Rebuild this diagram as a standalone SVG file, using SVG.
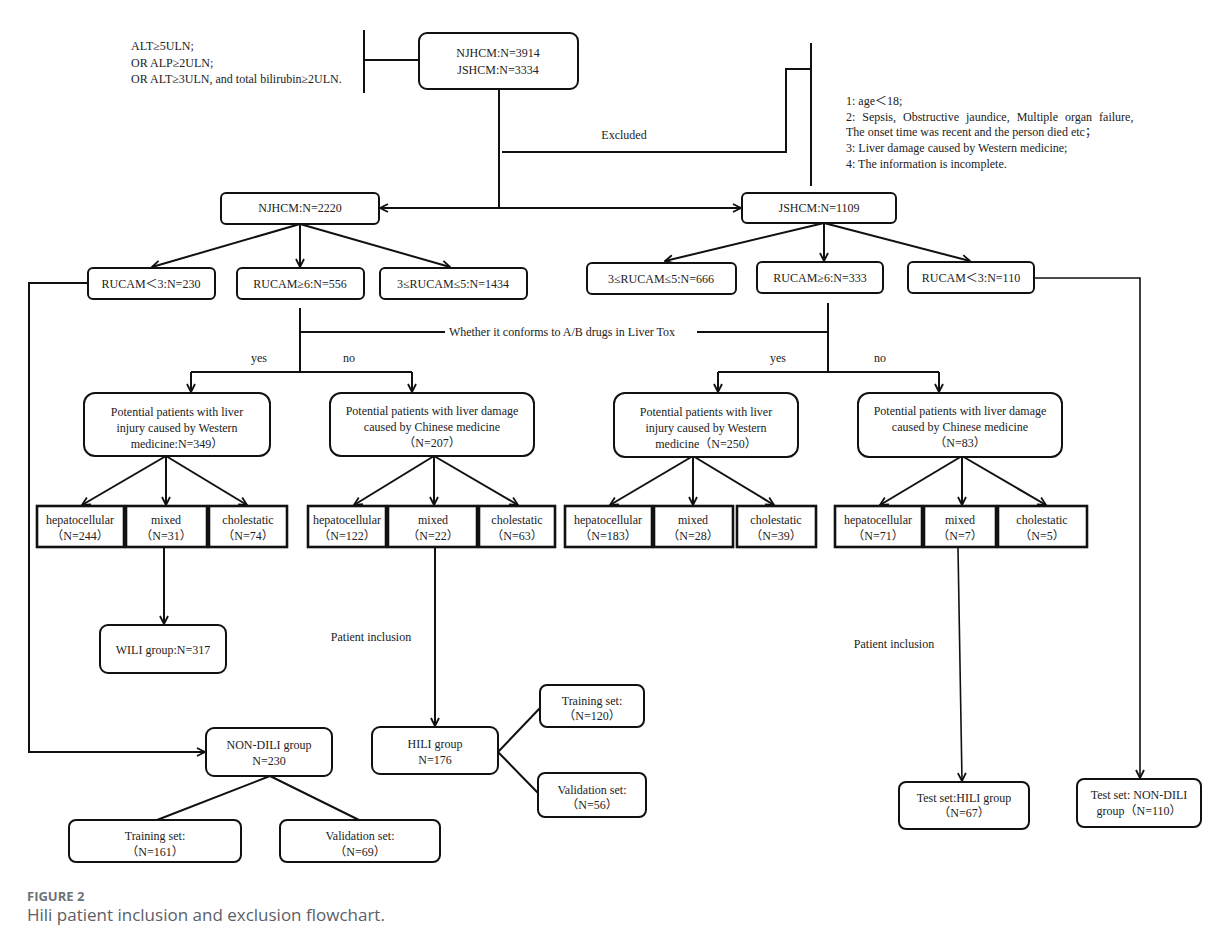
<svg xmlns="http://www.w3.org/2000/svg" width="1216" height="943" viewBox="0 0 1216 943">
<style>
text{font-family:"Liberation Serif","Noto Sans CJK SC",serif;font-size:12px;fill:#222}
.c{text-anchor:middle}
.box{fill:#fff;stroke:#111;stroke-width:2}
.sq{fill:#fff;stroke:#111;stroke-width:2.6}
.ln{fill:none;stroke:#111;stroke-width:2}
.thin{fill:none;stroke:#111;stroke-width:1.6}
.cap1{font-family:"Open Sans","Noto Sans",sans-serif;font-size:13px;font-weight:bold;fill:#6e717a}
.cap2{font-family:"Open Sans","Noto Sans",sans-serif;font-size:17px;fill:#5c6068}
</style>
<defs>
<marker id="ar" viewBox="0 0 10 10" refX="9" refY="5" markerWidth="10" markerHeight="10" markerUnits="userSpaceOnUse" orient="auto">
<path d="M1,1 L9,5 L1,9" fill="none" stroke="#111" stroke-width="1.8"/>
</marker>
</defs>
<rect width="1216" height="943" fill="#fff"/>

<g id="connectors">
<path class="ln" d="M364,30 V93 M364,60 H419"/>
<path class="ln" d="M499,89 V208"/>
<path class="ln" d="M499,208 H380" marker-end="url(#ar)"/>
<path class="ln" d="M499,208 H741" marker-end="url(#ar)"/>
<path class="ln" d="M502,152 H786 V69 H811"/>
<path class="ln" d="M811,43 V186"/>
<path class="ln" d="M300,224 L152,267" marker-end="url(#ar)"/>
<path class="ln" d="M300,224 V267" marker-end="url(#ar)"/>
<path class="ln" d="M300,224 L450,267" marker-end="url(#ar)"/>
<path class="ln" d="M824,223 L665,261" marker-end="url(#ar)"/>
<path class="ln" d="M824,223 V261" marker-end="url(#ar)"/>
<path class="ln" d="M824,223 L970,261" marker-end="url(#ar)"/>
<path class="ln" d="M300,308 V372 M300,332 H445 M697,332 H828 M828,303 V372 M191,372 H412 M718,372 H939"/>
<path class="ln" d="M191,372 V392" marker-end="url(#ar)"/>
<path class="ln" d="M412,372 V392" marker-end="url(#ar)"/>
<path class="ln" d="M718,372 V392" marker-end="url(#ar)"/>
<path class="ln" d="M939,372 V392" marker-end="url(#ar)"/>
<path class="ln" d="M166,456 L82,505" marker-end="url(#ar)"/>
<path class="ln" d="M166,456 V505" marker-end="url(#ar)"/>
<path class="ln" d="M166,456 L247,505" marker-end="url(#ar)"/>
<path class="ln" d="M434,456 L354,505" marker-end="url(#ar)"/>
<path class="ln" d="M434,456 V505" marker-end="url(#ar)"/>
<path class="ln" d="M434,456 L518,505" marker-end="url(#ar)"/>
<path class="ln" d="M693,456 L610,505" marker-end="url(#ar)"/>
<path class="ln" d="M693,456 V505" marker-end="url(#ar)"/>
<path class="ln" d="M693,456 L774,505" marker-end="url(#ar)"/>
<path class="ln" d="M962,456 L880,505" marker-end="url(#ar)"/>
<path class="ln" d="M962,456 V505" marker-end="url(#ar)"/>
<path class="ln" d="M962,456 L1046,505" marker-end="url(#ar)"/>
<path class="ln" d="M164,548 V624" marker-end="url(#ar)"/>
<path class="ln" d="M435,548 V726" marker-end="url(#ar)"/>
<path class="ln" d="M88,283 H29 V752 H205" marker-end="url(#ar)"/>
<path class="ln" d="M270,776 L157,820 M270,776 L359,820"/>
<path class="ln" d="M498,752 L540,708 M498,752 L538,793"/>
<path class="thin" d="M958,548 L962,781" marker-end="url(#ar)"/>
<path class="thin" d="M1034,278 H1140 V778" marker-end="url(#ar)"/>
</g>

<g id="criteria">
<text x="131" y="50">ALT≥5ULN;</text>
<text x="131" y="67">OR ALP≥2ULN;</text>
<text x="131" y="83">OR ALT≥3ULN, and total bilirubin≥2ULN.</text>
</g>
<g id="exclusion">
<text x="624" y="139" class="c">Excluded</text>
<text x="846" y="105">1: age＜18;</text>
<text x="846" y="121" word-spacing="4">2: Sepsis, Obstructive jaundice, Multiple organ failure,</text>
<text x="846" y="136">The onset time was recent and the person died etc；</text>
<text x="846" y="152">3: Liver damage caused by Western medicine;</text>
<text x="846" y="168">4: The information is incomplete.</text>
</g>
<g id="criterion-label">
<text x="562" y="336" class="c">Whether it conforms to A/B drugs in Liver Tox</text>
<text x="259" y="362" class="c">yes</text>
<text x="349" y="362" class="c">no</text>
<text x="778" y="362" class="c">yes</text>
<text x="880" y="362" class="c">no</text>
<text x="371" y="641" class="c">Patient inclusion</text>
<text x="894" y="648" class="c">Patient inclusion</text>
</g>

<g id="n-top"><rect class="box" x="419" y="33" width="159" height="56" rx="8"/><text x="498" y="57" class="c">NJHCM:N=3914</text><text x="498" y="74" class="c">JSHCM:N=3334</text></g>
<g id="n-nj"><rect class="box" x="221" y="193" width="158" height="31" rx="5"/><text x="300" y="212" class="c">NJHCM:N=2220</text></g>
<g id="n-js"><rect class="box" x="742" y="193" width="154" height="30" rx="5"/><text x="819" y="212" class="c">JSHCM:N=1109</text></g>

<g id="n-r1"><rect class="box" x="88" y="268" width="127" height="31" rx="5"/><text x="151" y="288" class="c">RUCAM＜3:N=230</text></g>
<g id="n-r2"><rect class="box" x="237" y="268" width="127" height="31" rx="5"/><text x="300" y="288" class="c">RUCAM≥6:N=556</text></g>
<g id="n-r3"><rect class="box" x="380" y="268" width="147" height="31" rx="5"/><text x="453" y="288" class="c">3≤RUCAM≤5:N=1434</text></g>
<g id="n-r4"><rect class="box" x="587" y="263" width="149" height="31" rx="5"/><text x="661" y="283" class="c">3≤RUCAM≤5:N=666</text></g>
<g id="n-r5"><rect class="box" x="757" y="262" width="126" height="31" rx="5"/><text x="820" y="282" class="c">RUCAM≥6:N=333</text></g>
<g id="n-r6"><rect class="box" x="908" y="262" width="126" height="31" rx="5"/><text x="971" y="282" class="c">RUCAM＜3:N=110</text></g>

<g id="n-p1"><rect class="box" x="84" y="393" width="186" height="63" rx="11"/><text x="177" y="416" class="c">Potential patients with liver</text><text x="177" y="432" class="c">injury caused by Western</text><text x="177" y="448" class="c">medicine:N=349）</text></g>
<g id="n-p2"><rect class="box" x="330" y="393" width="204" height="63" rx="11"/><text x="432" y="415" class="c">Potential patients with liver damage</text><text x="432" y="431" class="c">caused by Chinese medicine</text><text x="432" y="447" class="c">（N=207）</text></g>
<g id="n-p3"><rect class="box" x="614" y="393" width="184" height="64" rx="11"/><text x="706" y="416" class="c">Potential patients with liver</text><text x="706" y="432" class="c">injury caused by Western</text><text x="706" y="448" class="c">medicine（N=250）</text></g>
<g id="n-p4"><rect class="box" x="858" y="393" width="204" height="64" rx="11"/><text x="960" y="415" class="c">Potential patients with liver damage</text><text x="960" y="431" class="c">caused by Chinese medicine</text><text x="960" y="447" class="c">（N=83）</text></g>

<g id="n-c1"><rect class="sq" x="37" y="506" width="87" height="41"/><text x="80" y="524" class="c">hepatocellular</text><text x="80" y="540" class="c">（N=244）</text></g>
<g id="n-c2"><rect class="sq" x="126" y="506" width="81" height="41"/><text x="166" y="524" class="c">mixed</text><text x="166" y="540" class="c">（N=31）</text></g>
<g id="n-c3"><rect class="sq" x="209" y="506" width="78" height="41"/><text x="248" y="524" class="c">cholestatic</text><text x="248" y="540" class="c">（N=74）</text></g>
<g id="n-c4"><rect class="sq" x="308" y="506" width="78" height="41"/><text x="347" y="524" class="c">hepatocellular</text><text x="347" y="540" class="c">（N=122）</text></g>
<g id="n-c5"><rect class="sq" x="388" y="506" width="89" height="41"/><text x="433" y="524" class="c">mixed</text><text x="433" y="540" class="c">（N=22）</text></g>
<g id="n-c6"><rect class="sq" x="479" y="506" width="76" height="41"/><text x="517" y="524" class="c">cholestatic</text><text x="517" y="540" class="c">（N=63）</text></g>
<g id="n-c7"><rect class="sq" x="565" y="506" width="87" height="41"/><text x="608" y="524" class="c">hepatocellular</text><text x="608" y="540" class="c">（N=183）</text></g>
<g id="n-c8"><rect class="sq" x="654" y="506" width="79" height="41"/><text x="693" y="524" class="c">mixed</text><text x="693" y="540" class="c">（N=28）</text></g>
<g id="n-c9"><rect class="sq" x="737" y="506" width="79" height="41"/><text x="776" y="524" class="c">cholestatic</text><text x="776" y="540" class="c">（N=39）</text></g>
<g id="n-c10"><rect class="sq" x="835" y="506" width="87" height="41"/><text x="878" y="524" class="c">hepatocellular</text><text x="878" y="540" class="c">（N=71）</text></g>
<g id="n-c11"><rect class="sq" x="924" y="506" width="72" height="41"/><text x="960" y="524" class="c">mixed</text><text x="960" y="540" class="c">（N=7）</text></g>
<g id="n-c12"><rect class="sq" x="998" y="506" width="89" height="41"/><text x="1042" y="524" class="c">cholestatic</text><text x="1042" y="540" class="c">（N=5）</text></g>

<g id="n-wili"><rect class="box" x="100" y="625" width="126" height="48" rx="8"/><text x="163" y="654" class="c">WILI group:N=317</text></g>
<g id="n-hili"><rect class="box" x="372" y="727" width="126" height="47" rx="8"/><text x="435" y="748" class="c">HILI group</text><text x="435" y="764" class="c">N=176</text></g>
<g id="n-nondili"><rect class="box" x="206" y="728" width="126" height="48" rx="8"/><text x="269" y="749" class="c">NON-DILI group</text><text x="269" y="765" class="c">N=230</text></g>
<g id="n-train1"><rect class="box" x="69" y="820" width="172" height="42" rx="7"/><text x="155" y="840" class="c">Training set:</text><text x="155" y="856" class="c">（N=161）</text></g>
<g id="n-val1"><rect class="box" x="280" y="820" width="160" height="42" rx="7"/><text x="360" y="840" class="c">Validation set:</text><text x="360" y="856" class="c">（N=69）</text></g>
<g id="n-train2"><rect class="box" x="540" y="685" width="104" height="42" rx="7"/><text x="592" y="705" class="c">Training set:</text><text x="592" y="720" class="c">（N=120）</text></g>
<g id="n-val2"><rect class="box" x="538" y="773" width="108" height="44" rx="7"/><text x="592" y="794" class="c">Validation set:</text><text x="592" y="809" class="c">（N=56）</text></g>
<g id="n-test1"><rect class="box" x="899" y="782" width="130" height="47" rx="7"/><text x="964" y="802" class="c">Test set:HILI group</text><text x="964" y="817" class="c">（N=67）</text></g>
<g id="n-test2"><rect class="box" x="1077" y="779" width="124" height="48" rx="7"/><text x="1139" y="799" class="c">Test set: NON-DILI</text><text x="1139" y="815" class="c">group（N=110）</text></g>

<g id="caption">
<text x="27" y="901" class="cap1">FIGURE 2</text>
<text x="27" y="921" class="cap2">Hili patient inclusion and exclusion flowchart.</text>
</g>
</svg>
